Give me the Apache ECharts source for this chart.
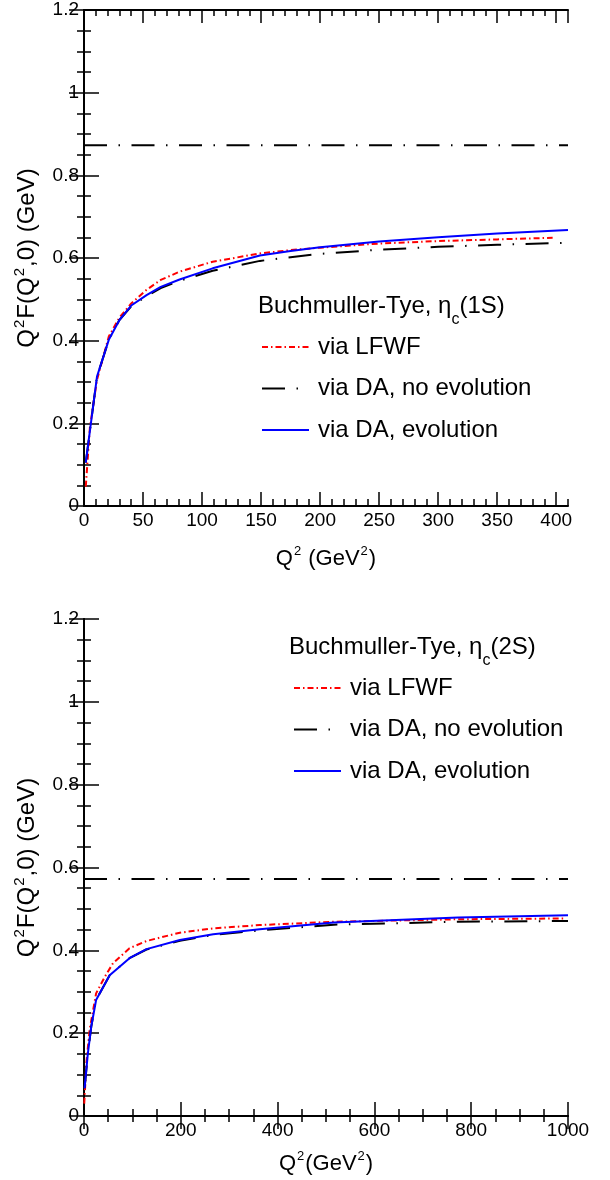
<!DOCTYPE html>
<html>
<head>
<meta charset="utf-8">
<script src="https://cdn.jsdelivr.net/npm/echarts@6.0.0/dist/echarts.min.js"></script>
<style>
html,body{margin:0;padding:0;background:#fff;}
#chart{width:610px;height:1180px;}
</style>
</head>
<body>
<div id="chart"></div>
<script>
// ---------- Data: eta_c(1S), Q^2 in GeV^2, Q^2 F(Q^2,0) in GeV ----------
const q2_1S_LFWF = [1.5, 5, 11, 21, 30, 40, 53, 65, 81, 109, 149, 175, 200, 250, 300, 350, 397];
const F_1S_LFWF  = [0.047, 0.19, 0.305, 0.41, 0.456, 0.49, 0.523, 0.547, 0.567, 0.591, 0.611, 0.619, 0.625, 0.635, 0.641, 0.645, 0.649];
const q2_1S_DA   = [1.5, 11, 21, 30, 40, 53, 65, 81, 109, 149, 175, 200, 250, 300, 350, 410];
const F_1S_DA_noevo = [0.105, 0.313, 0.402, 0.45, 0.483, 0.508, 0.527, 0.545, 0.569, 0.593, 0.602, 0.610, 0.620, 0.627, 0.632, 0.637];
const F_1S_DA_evo   = [0.105, 0.313, 0.402, 0.45, 0.485, 0.51, 0.53, 0.548, 0.575, 0.606, 0.617, 0.626, 0.640, 0.650, 0.659, 0.668];
const q2_1S_range = [0, 410];
const F_1S_asym = 0.873;

// ---------- Data: eta_c(2S) ----------
const q2_2S_LFWF = [0.5, 5, 11.6, 25, 43, 60, 94, 129, 198, 267, 363, 516, 773, 990];
const F_2S_LFWF  = [0.03, 0.13, 0.208, 0.296, 0.336, 0.369, 0.405, 0.4225, 0.4426, 0.453, 0.461, 0.469, 0.475, 0.477];
const q2_2S_DA   = [1.2, 8, 15, 25, 53, 94, 129, 198, 267, 363, 516, 773, 1000];
const F_2S_DA_noevo = [0.067, 0.151, 0.216, 0.28, 0.34, 0.381, 0.402, 0.423, 0.437, 0.448, 0.462, 0.469, 0.471];
const F_2S_DA_evo   = [0.067, 0.151, 0.216, 0.28, 0.34, 0.381, 0.403, 0.425, 0.439, 0.451, 0.467, 0.479, 0.485];
const q2_2S_range = [0, 1000];
const F_2S_asym = 0.572;

// ---------- Axis ticks ----------
const yTicks = {min: 0, max: 1.2, interval: 0.2};
const x1Ticks = {min: 0, max: 410, major: 50, minor: 10};
const x2Ticks = {min: 0, max: 1000, interval: 200};

const seriesNames = ['via LFWF', 'via DA, no evolution', 'via DA, evolution'];
const headers = ['(1S)', '(2S)'];

const FONT = '"Liberation Sans", Arial, Helvetica, sans-serif';
const zip = (xs, ys) => xs.map((x, i) => [x, ys[i]]);

const redDash = [6, 3, 1.5, 3];
const blackDash = [23, 11.5, 1.5, 11.5];

const lineAxis = {lineStyle: {color: '#000', width: 2}};
const tickStyle = {color: '#000', width: 1.5};

function xAxisCfg(o) {
  return Object.assign({
    type: 'value', splitLine: {show: false},
    axisLine: lineAxis,
    axisLabel: {show: false},
  }, o);
}

const chart = echarts.init(document.getElementById('chart'), null, {renderer: 'canvas'});

const labelStyle = {color: '#000', fontSize: 19, fontFamily: FONT, formatter: v => String(+v.toFixed(3))};
const nameStyle = {color: '#000', fontSize: 22, fontFamily: FONT, rich: {
  a: {fontSize: 22, fontFamily: FONT, color: '#000', verticalAlign: 'top', padding: [3, 0, 0, 0]},
  p: {fontSize: 13, fontFamily: FONT, color: '#000', verticalAlign: 'top', padding: [0, 1, 0, 1]}
}};
const yNameStyle = {color: '#000', fontSize: 24, fontFamily: FONT, rich: {
  a: {fontSize: 24, fontFamily: FONT, color: '#000', verticalAlign: 'top', padding: [3, 0, 0, 0]},
  p: {fontSize: 15, fontFamily: FONT, color: '#000', verticalAlign: 'top', padding: [0, 1, 0, 1]}
}};

const xAxis = [
  // top chart bottom major
  xAxisCfg({gridIndex: 0, position: 'bottom', min: x1Ticks.min, max: x1Ticks.max, interval: x1Ticks.major,
    axisLabel: Object.assign({show: true, margin: 5, showMaxLabel: false}, labelStyle),
    axisTick: {show: true, inside: true, length: 14, lineStyle: tickStyle},
    name: '{a|Q}{p|2}{a| (GeV}{p|2}{a|)}', nameLocation: 'middle', nameGap: 39, nameTextStyle: nameStyle}),
  // top chart bottom minor
  xAxisCfg({gridIndex: 0, position: 'bottom', min: x1Ticks.min, max: x1Ticks.max, interval: x1Ticks.minor,
    axisLine: {show: false}, axisTick: {show: true, inside: true, length: 7, lineStyle: tickStyle}}),
  // top chart top major
  xAxisCfg({gridIndex: 0, position: 'top', min: x1Ticks.min, max: x1Ticks.max, interval: x1Ticks.major,
    axisTick: {show: true, inside: true, length: 13, lineStyle: tickStyle}}),
  // top chart top minor
  xAxisCfg({gridIndex: 0, position: 'top', min: x1Ticks.min, max: x1Ticks.max, interval: x1Ticks.minor,
    axisLine: {show: false}, axisTick: {show: true, inside: true, length: 6, lineStyle: tickStyle}}),
  // bottom chart bottom
  xAxisCfg({gridIndex: 1, position: 'bottom', min: x2Ticks.min, max: x2Ticks.max, interval: x2Ticks.interval,
    axisLabel: Object.assign({show: true, margin: 5}, labelStyle),
    axisTick: {show: true, inside: true, length: 14, lineStyle: tickStyle},
    minorTick: {show: true, splitNumber: 4, length: 7, lineStyle: tickStyle},
    name: '{a|Q}{p|2}{a|(GeV}{p|2}{a|)}', nameLocation: 'middle', nameGap: 34, nameTextStyle: nameStyle}),
  // bottom chart top
  xAxisCfg({gridIndex: 1, position: 'top', min: x2Ticks.min, max: x2Ticks.max, interval: x2Ticks.interval,
    axisTick: {show: true, inside: true, length: 13, lineStyle: tickStyle},
    minorTick: {show: true, splitNumber: 4, length: 6, lineStyle: tickStyle}})
];

function yAxisCfg(grid, pos) {
  const c = {
    type: 'value', gridIndex: grid, position: pos,
    min: yTicks.min, max: yTicks.max, interval: yTicks.interval,
    splitLine: {show: false}, axisLine: lineAxis,
    axisTick: {show: true, inside: true, length: 15, lineStyle: tickStyle},
    minorTick: {show: true, splitNumber: 4, length: 7, lineStyle: tickStyle},
    axisLabel: {show: false}
  };
  if (pos === 'left') {
    c.axisLabel = Object.assign({show: true, margin: 5}, labelStyle);
    c.name = '{a|Q}{p|2}{a|F(Q}{p|2}{a|,0) (GeV)}';
    c.nameLocation = 'middle';
    c.nameRotate = 90;
    c.nameGap = 45;
    c.nameTextStyle = yNameStyle;
  }
  return c;
}
const yAxis = [yAxisCfg(0, 'left'), yAxisCfg(0, 'right'), yAxisCfg(1, 'left'), yAxisCfg(1, 'right')];

function mkSeries(name, xi, yi, data, color, dash) {
  return {
    type: 'line', name: name, xAxisIndex: xi, yAxisIndex: yi, data: data,
    symbol: 'none', showSymbol: false, silent: true, animation: false,
    itemStyle: {color: color},
    lineStyle: {color: color, width: 2, type: dash}
  };
}

const series = [
  mkSeries('asym1S', 0, 0, [[q2_1S_range[0], F_1S_asym], [q2_1S_range[1], F_1S_asym]], '#000', blackDash),
  mkSeries(seriesNames[0], 0, 0, zip(q2_1S_LFWF, F_1S_LFWF), '#ff0000', redDash),
  mkSeries(seriesNames[1], 0, 0, zip(q2_1S_DA, F_1S_DA_noevo), '#000000', blackDash),
  mkSeries(seriesNames[2], 0, 0, zip(q2_1S_DA, F_1S_DA_evo), '#0000ff', 'solid'),
  mkSeries('asym2S', 4, 2, [[q2_2S_range[0], F_2S_asym], [q2_2S_range[1], F_2S_asym]], '#000', blackDash),
  mkSeries(seriesNames[0], 4, 2, zip(q2_2S_LFWF, F_2S_LFWF), '#ff0000', redDash),
  mkSeries(seriesNames[1], 4, 2, zip(q2_2S_DA, F_2S_DA_noevo), '#000000', blackDash),
  mkSeries(seriesNames[2], 4, 2, zip(q2_2S_DA, F_2S_DA_evo), '#0000ff', 'solid')
];

function legendCfg(left, top) {
  return {
    orient: 'vertical', left: left, top: top, padding: 0,
    itemWidth: 47, itemHeight: 14, itemGap: 15.5,
    selectedMode: false, data: seriesNames,
    itemStyle: {opacity: 0, borderWidth: 0},
    textStyle: {color: '#000', fontSize: 24, lineHeight: 26, fontFamily: FONT, padding: [0, 0, 0, 4]}
  };
}

function headerCfg(left, top, tail) {
  return {
    left: left, top: top, padding: 0,
    text: '{a|Buchmuller-Tye, η}{s|c}{a|' + tail + '}',
    textStyle: {
      fontWeight: 'normal',
      rich: {
        a: {fontSize: 24, verticalAlign: 'top', fontFamily: FONT, color: '#000', fontWeight: 'normal'},
        s: {fontSize: 16, verticalAlign: 'top', padding: [18, 0, 0, 0], fontFamily: FONT, color: '#000', fontWeight: 'normal'}
      }
    }
  };
}

chart.setOption({
  animation: false,
  backgroundColor: '#fff',
  grid: [
    {left: 84, top: 10, width: 484, height: 496, containLabel: false},
    {left: 84, top: 619, width: 484, height: 497, containLabel: false}
  ],
  title: [headerCfg(258, 294, headers[0]), headerCfg(289, 635, headers[1])],
  legend: [legendCfg(261, 334), legendCfg(293, 675)],
  xAxis: xAxis,
  yAxis: yAxis,
  series: series
});
</script>
</body>
</html>
